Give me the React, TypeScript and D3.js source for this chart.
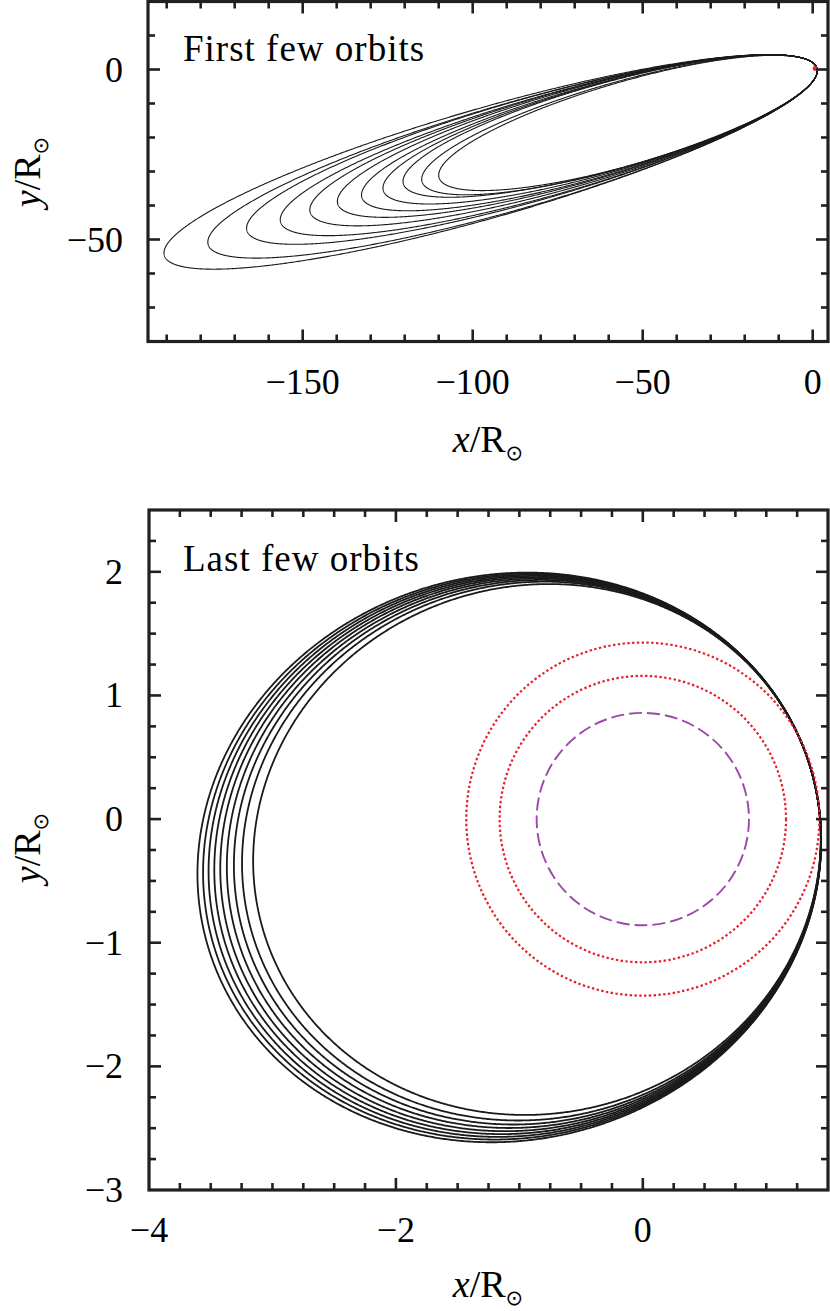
import * as d3 from 'd3'

// First few orbits: tips (apocentres) of each orbit, in R_sun
const firstApoX = [-190.7, -177.8, -166.4, -156.5, -147.8, -139.7, -132.6, -126.3, -120.4, -114.9, -109.9]
const firstApoY = [-54.7, -51.5, -47.4, -44.9, -42.0, -39.5, -37.6, -35.6, -33.6, -33.0, -31.8]
const firstPeri = 1.3

// Last few orbits: apocentre distance of each orbit, same periapsis direction
const lastApo = [3.67, 3.623, 3.577, 3.529, 3.479, 3.424, 3.365, 3.297, 3.204]
const lastPeri = 1.42
const lastPeriAngle = 16 // degrees

// star circles (dotted red) and the inner dashed one
const redRadii = [1.43, 1.16]
const purpleRadius = 0.86

const firstXTicks = d3.range(-190, 1, 10)
const firstYTicks = d3.range(-70, 11, 10)
const firstXLabels = [-150, -100, -50, 0]
const firstYLabels = [0, -50]

const lastXTicks = d3.range(-3.75, 1.5, 0.25)
const lastYTicks = d3.range(-2.75, 2.5, 0.25)
const lastXLabels = [-4, -2, 0]
const lastXMajor = [-2, 0]
const lastYLabels = [2, 1, 0, -1, -2, -3]

const fmt = d3.format('d')
const serif = "'Liberation Serif', 'DejaVu Serif', serif"

// Kepler ellipse with the focus at the origin, sampled in eccentric anomaly
function orbit(ra: number, rp: number, w: number, n = 1200): [number, number][] {
  const a = (ra + rp) / 2
  const e = (ra - rp) / (ra + rp)
  const b = a * Math.sqrt(1 - e * e)
  const cw = Math.cos(w)
  const sw = Math.sin(w)
  return d3.range(n + 1).map((i) => {
    const E = (2 * Math.PI * i) / n
    const u = a * (Math.cos(E) - e)
    const v = b * Math.sin(E)
    return [u * cw - v * sw, u * sw + v * cw] as [number, number]
  })
}

const Title = ({ x, y, rotate }: { x: number; y: number; rotate?: boolean }) => (
  <text
    transform={`translate(${x},${y})` + (rotate ? ' rotate(-90)' : '')}
    textAnchor="middle"
    style={{ fontFamily: serif, fontSize: 38 }}
  >
    <tspan fontStyle="italic">{rotate ? 'y' : 'x'}</tspan>
    <tspan>/R</tspan>
    <tspan style={{ fontFamily: 'DejaVu Sans', fontSize: 21 }} dy={8}>⊙</tspan>
  </text>
)

function Frame({ x, y, xt, yt, xMajor, yMajor, minor = 7, major = 12 }: any) {
  const [x0, x1] = x.range()
  const [y0, y1] = y.range()
  const ticks: any[] = []
  xt.forEach((v: number, i: number) => {
    const len = xMajor.includes(v) ? major : minor
    const px = x(v)
    ticks.push(<line key={'xb' + i} x1={px} x2={px} y1={y0} y2={y0 - len} />)
    ticks.push(<line key={'xt' + i} x1={px} x2={px} y1={y1} y2={y1 + len} />)
  })
  yt.forEach((v: number, i: number) => {
    const len = yMajor.includes(v) ? major : minor
    const py = y(v)
    ticks.push(<line key={'yl' + i} x1={x0} x2={x0 + len} y1={py} y2={py} />)
    ticks.push(<line key={'yr' + i} x1={x1} x2={x1 - len} y1={py} y2={py} />)
  })
  return (
    <g stroke="#231f20">
      <g strokeWidth={2.6}>{ticks}</g>
      <rect x={x0} y={y1} width={x1 - x0} height={y0 - y1} fill="none" strokeWidth={3.2} />
    </g>
  )
}

const label = { fontFamily: serif, fontSize: 36 }
const note = { fontFamily: serif, fontSize: 37, letterSpacing: 1 }

export default function App() {
  // top panel
  const x1 = d3.scaleLinear().domain([-195.5, 4.5]).range([148, 828])
  const y1 = d3.scaleLinear().domain([-80, 20]).range([341.5, 1.5])
  const line1 = d3.line<[number, number]>().x((d) => x1(d[0])).y((d) => y1(d[1]))
  const firstOrbits = firstApoX.map((ax, i) => {
    const ay = firstApoY[i]
    const w = Math.atan2(-ay, -ax)
    return orbit(Math.hypot(ax, ay), firstPeri, w)
  })

  // bottom panel
  const x2 = d3.scaleLinear().domain([-4, 1.5]).range([149, 828])
  const y2 = d3.scaleLinear().domain([-3, 2.5]).range([1190, 510])
  const line2 = d3.line<[number, number]>().x((d) => x2(d[0])).y((d) => y2(d[1]))
  const lastOrbits = lastApo.map((ra) => orbit(ra, lastPeri, (lastPeriAngle * Math.PI) / 180))
  const k2 = x2(1) - x2(0)

  return (
    <svg width={830} height={1311} style={{ position: 'absolute', left: 0, top: 0, background: '#fff' }}>
      <defs>
        <clipPath id="c1">
          <rect x={148} y={1.5} width={680} height={340} />
        </clipPath>
        <clipPath id="c2">
          <rect x={149} y={510} width={679} height={680} />
        </clipPath>
      </defs>

      {/* First few orbits */}
      <g clipPath="url(#c1)">
        {firstOrbits.map((pts, i) => (
          <path key={i} d={line1(pts) || ''} fill="none" stroke="#1a1a1a" strokeWidth={1.1} />
        ))}
        <circle cx={x1(0.7)} cy={y1(0.3)} r={2.4} fill="#e8202a" />
      </g>
      <Frame x={x1} y={y1} xt={firstXTicks} yt={firstYTicks} xMajor={firstXLabels} yMajor={firstYLabels} />
      <text x={183} y={61} style={note}>
        First few orbits
      </text>
      {firstXLabels.map((v) => (
        <text key={v} x={x1(v)} y={394} textAnchor="middle" style={label}>
          {fmt(v)}
        </text>
      ))}
      {firstYLabels.map((v) => (
        <text key={v} x={123} y={y1(v) + 12} textAnchor="end" style={label}>
          {fmt(v)}
        </text>
      ))}
      <Title x={488} y={452} />
      <Title x={40} y={172} rotate />

      {/* Last few orbits */}
      <g clipPath="url(#c2)">
        {lastOrbits.map((pts, i) => (
          <path key={i} d={line2(pts) || ''} fill="none" stroke="#1a1a1a" strokeWidth={1.8} />
        ))}
        {redRadii.map((r) => (
          <circle
            key={r}
            cx={x2(0)}
            cy={y2(0)}
            r={r * k2}
            fill="none"
            stroke="#e8202a"
            strokeWidth={2.2}
            strokeDasharray="2.4 2.4"
          />
        ))}
        <circle
          cx={x2(0)}
          cy={y2(0)}
          r={purpleRadius * k2}
          fill="none"
          stroke="#9a4aa6"
          strokeWidth={1.9}
          strokeDasharray="13 5"
        />
      </g>
      <Frame
        x={x2}
        y={y2}
        xt={lastXTicks}
        yt={lastYTicks}
        xMajor={lastXMajor}
        yMajor={lastYLabels}
      />
      <text x={183} y={571} style={note}>
        Last few orbits
      </text>
      {lastXLabels.map((v) => (
        <text key={v} x={x2(v)} y={1242} textAnchor="middle" style={label}>
          {fmt(v)}
        </text>
      ))}
      {lastYLabels.map((v) => (
        <text key={v} x={123} y={y2(v) + 12} textAnchor="end" style={label}>
          {fmt(v)}
        </text>
      ))}
      <Title x={488} y={1297} />
      <Title x={40} y={848} rotate />
    </svg>
  )
}
